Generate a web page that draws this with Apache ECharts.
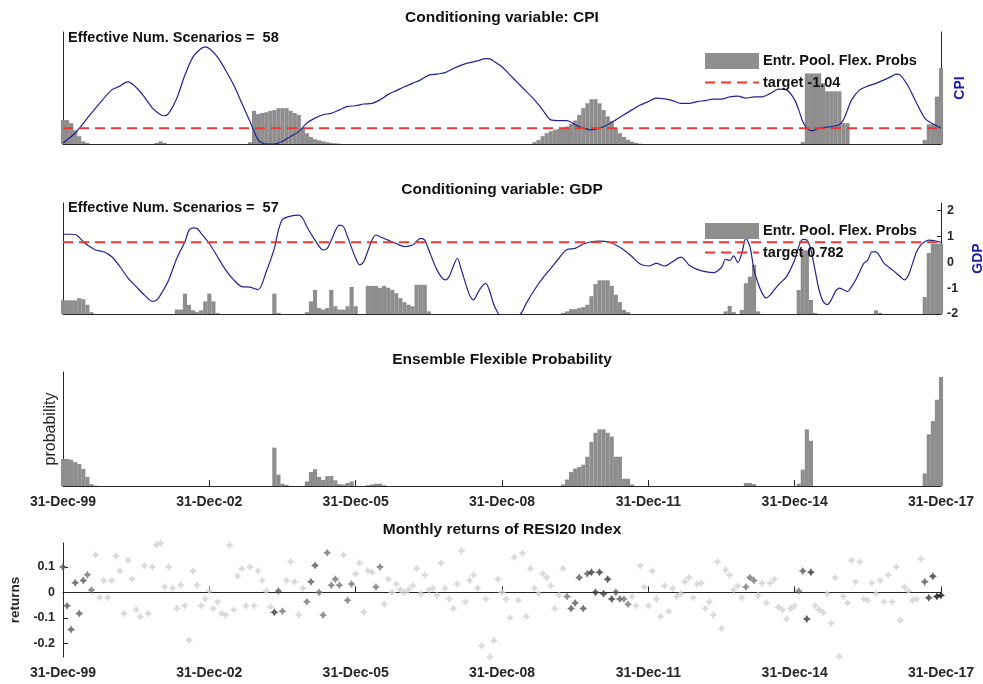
<!DOCTYPE html>
<html>
<head>
<meta charset="utf-8">
<script src="https://cdn.jsdelivr.net/npm/echarts@6/dist/echarts.min.js"></script>
<style>
  html, body { margin: 0; padding: 0; background: #fff; }
  #chart { width: 983px; height: 684px; }
</style>
</head>
<body>
<div id="chart"></div>
<script>
// months since 31-Dec-99, one per month up to 31-Dec-17
const xTickLabels = ['31-Dec-99', '31-Dec-02', '31-Dec-05', '31-Dec-08', '31-Dec-11', '31-Dec-14', '31-Dec-17'];
const gdpTicks = [-2, -1, 0, 1, 2];
const returnTicks = [-0.2, -0.1, 0, 0.1];

const cpiTarget = -1.04;
const gdpTarget = 0.782;
const cpiScenarios = 58;
const gdpScenarios = 57;

// conditioning variables, [month, value]
const cpiLine = [[0,-1.47],[3,-1.18],[6,-0.75],[9,-0.32],[12,0.07],[14,0.18],[15,0.26],[16,0.30],[18,0.14],[20,-0.13],[22,-0.46],[24,-0.65],[25,-0.68],[26,-0.61],[28,-0.17],[30,0.50],[32,1.03],[34,1.27],[35,1.32],[36,1.27],[38,1.03],[40,0.64],[42,0.21],[44,-0.32],[46,-0.85],[48,-1.38],[49,-1.47],[50,-1.50],[52,-1.50],[54,-1.42],[56,-1.28],[58,-1.14],[60,-0.89],[62,-0.75],[64,-0.65],[66,-0.61],[68,-0.51],[70,-0.41],[72,-0.39],[74,-0.34],[76,-0.32],[78,-0.22],[80,-0.06],[82,0.05],[84,0.16],[86,0.26],[88,0.36],[90,0.50],[92,0.53],[94,0.57],[96,0.69],[98,0.79],[100,0.86],[102,0.91],[104,0.98],[105,0.97],[106,0.90],[107,0.82],[108,0.74],[110,0.50],[112,0.26],[114,0.02],[116,-0.22],[118,-0.51],[120,-0.80],[122,-0.82],[124,-0.82],[126,-0.94],[128,-1.04],[130,-1.09],[132,-1.04],[134,-0.94],[136,-0.80],[138,-0.65],[140,-0.51],[142,-0.37],[144,-0.27],[146,-0.17],[148,-0.19],[150,-0.24],[152,-0.32],[154,-0.32],[156,-0.27],[158,-0.24],[160,-0.20],[162,-0.20],[164,-0.13],[166,-0.11],[168,-0.17],[170,-0.13],[172,-0.13],[174,-0.03],[176,0.09],[178,0.07],[180,-0.22],[181,-0.51],[182,-0.85],[183,-1.04],[184,-1.11],[185,-1.09],[186,-1.04],[188,-1.01],[190,-0.97],[191,-0.94],[192,-0.80],[193,-0.51],[194,-0.22],[196,0.07],[198,0.18],[200,0.26],[202,0.36],[204,0.47],[205,0.53],[206,0.50],[208,0.16],[210,-0.32],[212,-0.75],[213,-0.85],[214,-0.91],[216,-1.04]];

const gdpLine = [[0,1.09],[2,1.09],[3,1.08],[4,0.97],[5,0.80],[6,0.67],[8,0.48],[10,0.41],[12,0.22],[14,-0.16],[16,-0.61],[18,-0.94],[20,-1.26],[22,-1.51],[23,-1.47],[24,-1.26],[26,-0.68],[28,0.16],[30,0.80],[31,1.25],[32,1.34],[33,1.31],[34,1.12],[36,0.73],[38,0.22],[40,-0.29],[42,-0.68],[44,-0.94],[46,-0.96],[48,-1.06],[50,-0.36],[52,0.54],[53,1.25],[54,1.66],[56,1.79],[58,1.83],[59,1.70],[60,1.38],[62,0.86],[64,0.48],[65,0.54],[66,0.86],[68,1.44],[69,1.38],[70,0.99],[72,0.16],[73,-0.10],[74,0.03],[76,0.86],[77,1.06],[78,0.99],[80,0.86],[82,0.73],[84,0.61],[86,0.67],[88,0.93],[89,0.86],[90,0.48],[92,-0.29],[94,-0.68],[95,-0.55],[96,-0.16],[97,0.16],[98,-0.29],[100,-1.26],[101,-1.45],[102,-1.19],[103,-0.94],[104,-0.81],[105,-1.13],[106,-1.64],[107,-1.96],[108,-2.25],[110,-2.45],[112,-2.10],[113,-1.90],[114,-1.58],[116,-1.06],[118,-0.61],[120,-0.23],[122,0.16],[124,0.50],[126,0.54],[128,0.71],[130,0.80],[132,0.82],[134,0.80],[136,0.67],[138,0.48],[140,0.22],[142,-0.06],[144,-0.14],[146,-0.04],[148,-0.14],[150,0.03],[152,0.20],[153,0.09],[154,-0.10],[156,-0.27],[158,-0.36],[160,-0.40],[162,-0.19],[163,0.12],[164,0.07],[165,0.25],[166,-0.01],[167,0.35],[168,0.93],[169,0.61],[170,-0.29],[171,-0.81],[172,-1.19],[173,-1.38],[174,-1.26],[175,-1.06],[176,-0.87],[178,-0.55],[180,0.09],[181,0.61],[182,0.89],[183,0.86],[184,0.48],[185,-0.29],[186,-1.06],[187,-1.51],[188,-1.64],[189,-1.45],[190,-1.13],[191,-1.00],[192,-1.06],[193,-1.13],[194,-0.94],[195,-0.68],[196,-0.36],[197,-0.04],[198,0.09],[199,0.41],[200,0.41],[201,0.22],[202,-0.04],[204,-0.29],[206,-0.55],[207,-0.68],[208,-0.49],[209,-0.04],[210,0.41],[211,0.67],[212,0.80],[213,0.86],[216,0.78]];

// flexible probabilities, stored as [first month, run of values]; other months are 0
const cpiProbRuns = [
  [0, [0.0064,0.0064,0.0056,0.0037,0.0021,0.0007,0.0003]],
  [23, [0.0003,0.0007,0.0003]],
  [46, [0.0005,0.0089,0.0080,0.0083,0.0085,0.0089,0.0091,0.0096,0.0096,0.0096,0.0089,0.0083,0.0078,0.0043,0.0029,0.0019,0.0013,0.0010,0.0007,0.0005,0.0003,0.0002,0.0001]],
  [116, [0.0005,0.0011,0.0021,0.0029,0.0034,0.0038,0.0040,0.0043,0.0047,0.0054,0.0063,0.0078,0.0096,0.0109,0.0120,0.0120,0.0109,0.0091,0.0074,0.0061,0.0043,0.0029,0.0019,0.0011,0.0006,0.0003,0.0001]],
  [182, [0.0005,0.0189,0.0189,0.0189,0.0189,0.0163,0.0141,0.0141,0.0141,0.0141,0.0056,0.0056]],
  [212, [0.0011,0.0053,0.0053,0.0127,0.0203]]
];
const gdpProbRuns = [
  [0, [0.0037,0.0037,0.0037,0.0037,0.0043,0.0040,0.0025,0.0005]],
  [28, [0.0012,0.0012,0.0055,0.0025,0.0010,0.0005,0.0010,0.0034,0.0055,0.0034,0.0003]],
  [52, [0.0055,0.0003]],
  [60, [0.0005,0.0034,0.0065,0.0016,0.0012,0.0016,0.0065,0.0021,0.0012,0.0012,0.0021,0.0073,0.0021]],
  [75, [0.0076,0.0076,0.0076,0.0071,0.0076,0.0071,0.0065,0.0056,0.0043,0.0032,0.0025,0.0021,0.0079,0.0079,0.0079,0.0007]],
  [123, [0.0003,0.0007,0.0013,0.0013,0.0016,0.0019,0.0025,0.0048,0.0081,0.0091,0.0091,0.0091,0.0076,0.0052,0.0032,0.0011,0.0005]],
  [163, [0.0007,0.0022,0.0005,0,0.0011,0.0083,0.0101,0.0133,0.0007]],
  [181, [0.0065,0.0172,0.0172,0.0038,0.0003]],
  [200, [0.0010,0.0003]],
  [212, [0.0046,0.0165,0.0190,0.0190,0.0190]]
];
const ensembleProbRuns = [
  [0, [0.0071,0.0071,0.0069,0.0063,0.0058,0.0045,0.0024,0.0005,0.0001]],
  [52, [0.0101,0.0030,0.0006,0.0003]],
  [60, [0.0012,0.0037,0.0044,0.0024,0.0016,0.0026,0.0026,0.0015,0.0005,0.0004,0.0008,0.0012,0.0001]],
  [75, [0.0002,0.0004,0.0006,0.0006,0.0002]],
  [123, [0.0004,0.0017,0.0037,0.0046,0.0050,0.0056,0.0077,0.0116,0.0140,0.0149,0.0149,0.0140,0.0130,0.0077,0.0077,0.0019,0.0019,0.0004]],
  [168, [0.0008,0.0008,0.0005]],
  [181, [0.0006,0.0043,0.0149,0.0119]],
  [212, [0.0033,0.0136,0.0171,0.0227,0.0287]]
];

// monthly returns of RESI20, Dec-99 .. Dec-17
const returns = [
  0.100,-0.053,-0.146,0.038,-0.083,0.047,0.069,0.009,0.147,-0.020,
  0.047,-0.020,0.047,0.143,0.084,-0.083,0.126,0.052,-0.068,-0.096,
  0.105,-0.083,0.100,0.187,0.194,0.022,0.100,0.016,-0.063,0.029,
  -0.053,-0.188,0.084,0.029,-0.053,-0.026,0.005,-0.063,-0.037,-0.083,
  -0.089,0.185,-0.068,0.064,0.094,-0.053,0.100,-0.053,0.084,0.047,
  0.005,-0.057,-0.078,0.005,-0.074,0.047,0.120,0.042,-0.089,0.016,
  -0.037,0.042,0.106,0.000,-0.089,0.156,0.028,0.052,0.028,0.147,
  -0.031,0.033,0.073,0.115,-0.078,0.085,0.079,0.021,0.100,-0.047,
  0.052,0.000,0.033,0.010,0.000,0.010,0.026,0.094,-0.005,0.068,
  0.010,0.016,-0.011,0.115,0.016,-0.026,-0.063,0.033,0.164,-0.037,
  0.047,0.068,0.016,-0.210,-0.026,-0.254,-0.189,0.052,0.000,-0.026,
  -0.100,0.138,-0.031,0.154,-0.095,0.094,0.016,-0.005,0.073,0.058,
  0.026,-0.063,-0.011,0.094,-0.016,-0.063,-0.042,0.058,-0.063,0.073,
  0.079,0.000,0.079,-0.005,0.052,-0.026,0.000,-0.026,-0.026,-0.047,
  -0.016,-0.053,0.105,0.021,-0.053,0.084,-0.026,-0.095,0.026,-0.074,
  0.016,-0.016,-0.005,0.042,0.058,-0.021,0.033,0.037,-0.063,-0.037,
  -0.089,0.120,-0.142,0.089,0.068,0.010,0.026,-0.021,0.021,0.058,
  0.047,-0.011,0.037,-0.042,0.037,0.052,-0.058,-0.068,-0.105,-0.063,
  -0.053,0.005,0.084,-0.105,0.079,-0.053,-0.068,-0.079,-0.005,-0.121,
  0.058,-0.252,-0.016,-0.042,0.126,0.042,0.120,-0.026,-0.031,0.037,
  -0.005,0.047,-0.037,0.068,-0.037,0.100,-0.110,0.021,0.005,-0.031,
  -0.026,0.131,0.042,-0.021,0.063,-0.016,-0.011
];

const N = returns.length; // 217
const lastMonth = N - 1;

function expandRuns(runs) {
  const out = new Array(N).fill(0);
  runs.forEach(([start, vals]) => vals.forEach((v, k) => { out[start + k] = v; }));
  return out;
}
function barPairs(runs) {
  return expandRuns(runs).map((v, i) => [i, v]).filter(p => p[1] > 0);
}

const ensembleProbs = expandRuns(ensembleProbRuns);

const FONT = 'Liberation Sans, Arial, sans-serif';
const INK = '#262626';
const BAR = '#8e8e8e';
const BLUE = '#23238f';
const RED = '#ee3636';
const BAR_W = 4.15;

const L = 63, W = 878;
const grids = [
  { left: L, width: W, top: 32, height: 112, outerBoundsMode: 'none' },
  { left: L, width: W, top: 203, height: 111, outerBoundsMode: 'none' },
  { left: L, width: W, top: 372, height: 114, outerBoundsMode: 'none' },
  { left: L, width: W, top: 543, height: 114, outerBoundsMode: 'none' }
];

const axisLine = { show: true, lineStyle: { color: INK, width: 1 } };

function xAxis(gridIndex, labels) {
  return {
    type: 'value', gridIndex, min: 0, max: lastMonth, interval: 36,
    axisLine, splitLine: { show: false },
    axisTick: { show: labels, inside: true, length: 6, lineStyle: { color: INK } },
    axisLabel: {
      show: labels, margin: 9, color: INK, fontFamily: FONT, fontWeight: 'bold', fontSize: 14,
      formatter: v => xTickLabels[Math.round(v / 36)]
    }
  };
}
function plainY(gridIndex, max, extra) {
  return Object.assign({
    type: 'value', gridIndex, min: 0, max,
    axisLine, axisTick: { show: false }, axisLabel: { show: false }, splitLine: { show: false }
  }, extra || {});
}

const titleStyle = { fontFamily: FONT, fontWeight: 'bold', fontSize: 15.5, color: '#111' };
const noteStyle = { fontFamily: FONT, fontWeight: 'bold', fontSize: 14.5, color: '#111' };
const titles = [
  ['Conditioning variable: CPI', 10],
  ['Conditioning variable: GDP', 182],
  ['Ensemble Flexible Probability', 352],
  ['Monthly returns of RESI20 Index', 522]
].map(([text, top]) => ({ text, left: L + W / 2, top, textAlign: 'center', padding: 0, textStyle: titleStyle }));
titles.push(
  { text: 'Effective Num. Scenarios =  ' + cpiScenarios, left: 68, top: 30, padding: 0, textStyle: noteStyle },
  { text: 'Effective Num. Scenarios =  ' + gdpScenarios, left: 68, top: 200, padding: 0, textStyle: noteStyle }
);

const legendText = { fontFamily: FONT, fontWeight: 'bold', fontSize: 14.5, color: '#111', padding: [0, 0, 0, -1] };
function legend(top, targetName) {
  return {
    left: 704, top, orient: 'vertical', itemWidth: 54, itemHeight: 16, itemGap: 6,
    selectedMode: false, padding: 0, textStyle: legendText,
    data: [
      { name: 'Entr. Pool. Flex. Probs', icon: 'rect' },
      { name: targetName, itemStyle: { opacity: 0 } }
    ]
  };
}

const star = 'path://M0,-5 L1.9,-1.9 L5,0 L1.9,1.9 L0,5 L-1.9,1.9 L-5,0 L-1.9,-1.9 Z';
const yNameStyle = { color: '#1c1ca8', fontFamily: FONT, fontWeight: 'bold', fontSize: 14 };
const yTickStyle = { color: INK, fontFamily: FONT, fontWeight: 'bold', fontSize: 12.5 };

const option = {
  animation: false,
  backgroundColor: '#fff',
  title: titles,
  legend: [legend(53, 'target ' + cpiTarget), legend(223, 'target ' + gdpTarget)],
  grid: grids,
  xAxis: [xAxis(0, false), xAxis(1, false), xAxis(2, true), xAxis(3, true)],
  yAxis: [
    plainY(0, 0.03),
    plainY(0, 0, {
      position: 'right', min: -1.5, max: 1.75,
      name: 'CPI', nameLocation: 'middle', nameRotate: 90, nameGap: 12, nameTextStyle: yNameStyle
    }),
    plainY(1, 0.03),
    {
      type: 'value', gridIndex: 1, position: 'right', min: -2, max: 2.3,
      axisLine, splitLine: { show: false },
      axisTick: { show: true, inside: true, length: 4, customValues: gdpTicks, lineStyle: { color: INK } },
      axisLabel: Object.assign({ margin: 6, customValues: gdpTicks }, yTickStyle),
      name: 'GDP', nameLocation: 'middle', nameRotate: 90, nameGap: 30, nameTextStyle: yNameStyle
    },
    plainY(2, 0.03, {
      name: 'probability', nameLocation: 'middle', nameRotate: 90, nameGap: 4,
      nameTextStyle: { color: INK, fontFamily: FONT, fontSize: 16 }
    }),
    {
      type: 'value', gridIndex: 3, min: -0.254, max: 0.194,
      axisLine, splitLine: { show: false },
      axisTick: { show: true, inside: true, length: 5, customValues: returnTicks, lineStyle: { color: INK } },
      axisLabel: Object.assign({ margin: 8, customValues: returnTicks }, yTickStyle),
      name: 'returns', nameLocation: 'middle', nameRotate: 90, nameGap: 33,
      nameTextStyle: { color: INK, fontFamily: FONT, fontWeight: 'bold', fontSize: 13.5 }
    }
  ],
  visualMap: {
    type: 'piecewise', show: false, seriesIndex: 7, dimension: 2,
    pieces: [
      { lt: 0.0005, color: '#d2d2d2' },
      { gte: 0.0005, lt: 0.003, color: '#767676' },
      { gte: 0.003, lt: 0.01, color: '#595959' },
      { gte: 0.01, lt: 0.02, color: '#3a3a3a' },
      { gte: 0.02, color: '#111111' }
    ]
  },
  series: [
    { name: 'Entr. Pool. Flex. Probs', type: 'bar', xAxisIndex: 0, yAxisIndex: 0, barWidth: BAR_W, clip: true,
      itemStyle: { color: BAR }, data: barPairs(cpiProbRuns), z: 1 },
    { name: 'CPI', type: 'line', xAxisIndex: 0, yAxisIndex: 1, symbol: 'none', smooth: 0.3,
      lineStyle: { color: BLUE, width: 1.2 }, data: cpiLine, z: 2 },
    { name: 'target ' + cpiTarget, type: 'line', xAxisIndex: 0, yAxisIndex: 1, symbol: 'none',
      lineStyle: { color: RED, width: 2, type: [10, 6] }, itemStyle: { color: RED },
      data: [[0, cpiTarget], [lastMonth, cpiTarget]], z: 3 },
    { name: 'Entr. Pool. Flex. Probs', type: 'bar', xAxisIndex: 1, yAxisIndex: 2, barWidth: BAR_W, clip: true,
      itemStyle: { color: BAR }, data: barPairs(gdpProbRuns), z: 1 },
    { name: 'GDP', type: 'line', xAxisIndex: 1, yAxisIndex: 3, symbol: 'none', smooth: 0.3, clip: true,
      lineStyle: { color: BLUE, width: 1.2 }, data: gdpLine, z: 2 },
    { name: 'target ' + gdpTarget, type: 'line', xAxisIndex: 1, yAxisIndex: 3, symbol: 'none',
      lineStyle: { color: RED, width: 2, type: [10, 6] }, itemStyle: { color: RED },
      data: [[0, gdpTarget], [lastMonth, gdpTarget]], z: 3 },
    { name: 'Ensemble', type: 'bar', xAxisIndex: 2, yAxisIndex: 4, barWidth: BAR_W, clip: true,
      itemStyle: { color: BAR }, data: barPairs(ensembleProbRuns) },
    { name: 'returns', type: 'scatter', xAxisIndex: 3, yAxisIndex: 5, symbol: star, symbolSize: 8,
      data: returns.map((r, i) => [i, r, ensembleProbs[i]]) }
  ]
};

const chart = echarts.init(document.getElementById('chart'), null, { renderer: 'canvas' });
chart.setOption(option);
</script>
</body>
</html>
